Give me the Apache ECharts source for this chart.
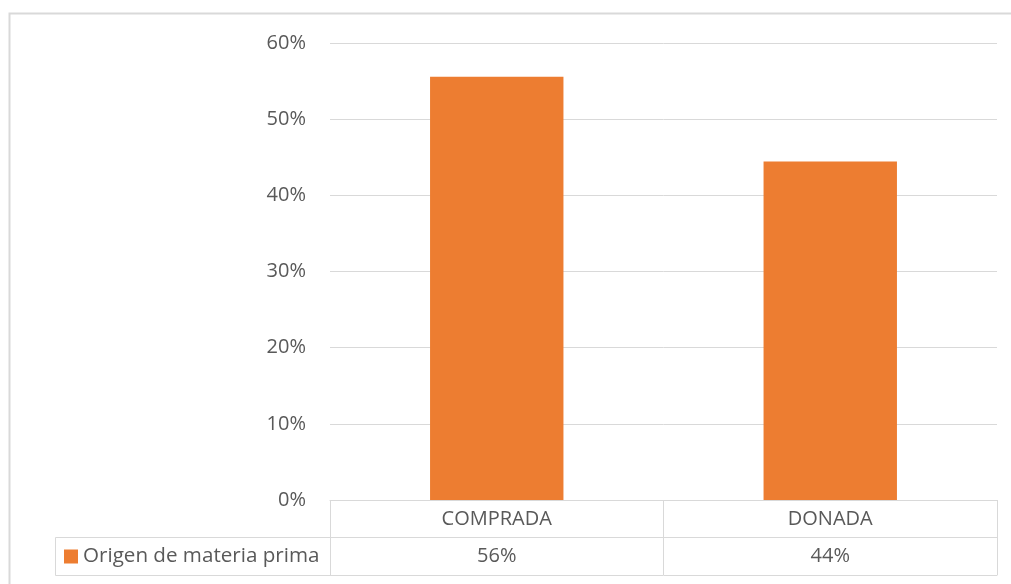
<!DOCTYPE html>
<html>
<head>
<meta charset="utf-8">
<script src="https://cdn.jsdelivr.net/npm/echarts@6/dist/echarts.min.js"></script>
<style>
  html, body { margin: 0; padding: 0; background: #fff; overflow: hidden; }
  #chart { width: 1011px; height: 584px; }
</style>
</head>
<body>
<div id="chart"></div>
<script>
// Source of raw material, share of total
const categories = ['COMPRADA', 'DONADA'];
const seriesName = 'Origen de materia prima';
const values = [0.5556, 0.4444];
const yTicks = [0, 0.1, 0.2, 0.3, 0.4, 0.5, 0.6];

const FONT = '"Open Sans", "Liberation Sans", sans-serif';
const TEXT = '#595959';
const LINE = '#D9D9D9';
const ORANGE = '#ED7D31';

const pct = v => Math.round(v * 100) + '%';
const valueLabels = values.map(pct);

const chart = echarts.init(document.getElementById('chart'), null, { renderer: 'canvas' });

const baseX = {
  type: 'category',
  position: 'bottom',
  boundaryGap: true,
  axisLine: { show: true, lineStyle: { color: LINE, width: 1 } },
  axisTick: { show: false },
  splitLine: { show: false }
};

chart.setOption({
  animation: false,
  backgroundColor: '#fff',
  textStyle: { fontFamily: FONT },
  grid: { left: 330, right: 14, top: 43, bottom: 84 },
  legend: {
    data: [seriesName],
    left: 64,
    top: 546,
    padding: 0,
    icon: 'rect',
    itemWidth: 14,
    itemHeight: 14,
    selectedMode: false,
    textStyle: { fontSize: 20.6, color: TEXT, fontFamily: FONT }
  },
  xAxis: [
    Object.assign({}, baseX, {
      data: categories,
      axisTick: { show: true, interval: 0, length: 75, lineStyle: { color: LINE, width: 1 } },
      axisLabel: {
        interval: 0, margin: 19, verticalAlign: 'middle',
        fontSize: 20, color: TEXT, fontFamily: FONT
      }
    }),
    Object.assign({}, baseX, {
      data: valueLabels,
      offset: 37,
      axisLabel: {
        interval: 0, margin: 19, verticalAlign: 'middle',
        fontSize: 20, color: TEXT, fontFamily: FONT
      }
    }),
    Object.assign({}, baseX, {
      data: categories,
      offset: 75,
      axisLabel: { show: false }
    })
  ],
  yAxis: {
    type: 'value',
    min: yTicks[0],
    max: yTicks[yTicks.length - 1],
    interval: 0.1,
    axisLine: { show: false },
    axisTick: { show: false },
    axisLabel: {
      margin: 24, fontSize: 20, color: TEXT, fontFamily: FONT,
      formatter: v => pct(v)
    },
    splitLine: { lineStyle: { color: LINE, width: 1 } }
  },
  series: [{
    name: seriesName,
    type: 'bar',
    xAxisIndex: 0,
    data: values,
    barCategoryGap: '60%',
    itemStyle: { color: ORANGE },
    label: { show: false }
  }],
  graphic: [
    {
      type: 'rect',
      silent: true,
      shape: { x: 9.5, y: 13.5, width: 1200, height: 700 },
      style: { fill: 'none', stroke: LINE, lineWidth: 2 }
    },
    {
      type: 'rect',
      silent: true,
      shape: { x: 55.5, y: 537.5, width: 275, height: 38 },
      style: { fill: 'none', stroke: LINE, lineWidth: 1 }
    }
  ]
});
</script>
</body>
</html>
